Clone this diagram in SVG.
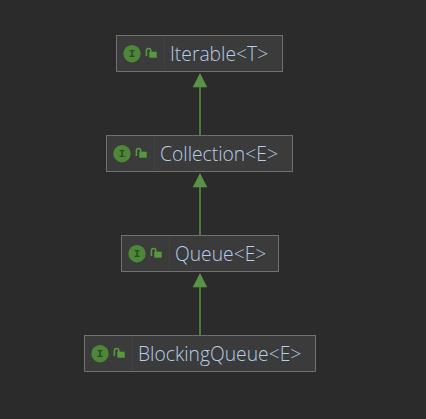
<svg xmlns="http://www.w3.org/2000/svg" width="426" height="419" viewBox="0 0 426 419">
<style>
.box{fill:#3b3b3b;stroke:#6f7070;stroke-width:1}
.sep{stroke:#414141;stroke-width:1}
.lbl{font-family:"Open Sans","Noto Sans",sans-serif;font-size:19.3px;font-weight:300;fill:#b4cde8}
.ic{fill:#4d8739}
.i{font-family:"Liberation Mono",monospace;font-weight:bold;font-size:11px;fill:#2f4a27;text-anchor:middle}
.lk{fill:#569a3e}
.sh{fill:none;stroke:#569a3e;stroke-width:1.6}
.edge{stroke:#5a9347;stroke-width:1.5;fill:none}
.head{fill:#5a9347}
</style>
<defs>
<g id="badge">
<circle class="ic" cx="0" cy="0" r="8.7"/>
<text class="i" x="0" y="3.6">I</text>
<rect class="lk" x="17.3" y="-2" width="7.4" height="6"/>
<path class="sh" d="M14.4 2.4V-3Q14.4 -5.2 16.6 -5.2Q18.8 -5.2 18.8 -3V-1"/>
</g>
</defs>
<rect width="426" height="419" fill="#2b2b2b"/>
<g id="connectors">
<path class="edge" d="M200 87V135"/><path class="head" d="M200 73L207.3 87.3H192.7Z"/>
<path class="edge" d="M200 187V235"/><path class="head" d="M200 173L207.3 187.3H192.7Z"/>
<path class="edge" d="M200 287V335"/><path class="head" d="M200 273L207.3 287.3H192.7Z"/>
</g>
<g id="iterable">
<rect class="box" x="116.5" y="35.5" width="166" height="36"/>
<path class="sep" d="M164.5 36V71"/>
<use href="#badge" x="132" y="53.7"/>
<text class="lbl" x="170" y="60.5">Iterable&lt;T&gt;</text>
</g>
<g id="collection">
<rect class="box" x="106.5" y="135.5" width="186" height="36"/>
<path class="sep" d="M154.5 136V171"/>
<use href="#badge" x="122" y="153.7"/>
<text class="lbl" x="160" y="160.5">Collection&lt;E&gt;</text>
</g>
<g id="queue">
<rect class="box" x="121.5" y="235.5" width="157" height="36"/>
<path class="sep" d="M169.5 236V271"/>
<use href="#badge" x="137" y="253.7"/>
<text class="lbl" x="175" y="260.5">Queue&lt;E&gt;</text>
</g>
<g id="blockingqueue">
<rect class="box" x="84.5" y="335.5" width="231" height="36"/>
<path class="sep" d="M132.5 336V371"/>
<use href="#badge" x="100" y="353.7"/>
<text class="lbl" x="138" y="360.5">BlockingQueue&lt;E&gt;</text>
</g>
</svg>
